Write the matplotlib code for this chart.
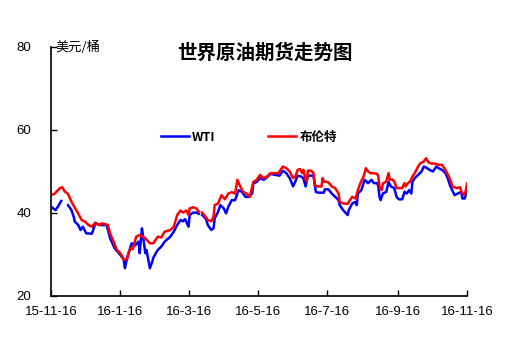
import numpy as np
import pandas as pd
import matplotlib
matplotlib.use("Agg")
import matplotlib.pyplot as plt

plt.rcParams["font.family"] = ["Liberation Sans", "Noto Sans CJK SC", "DejaVu Sans"]

start = pd.Timestamp("2015-11-16")

# Brent: day offset from start, USD/bbl (nan = no quote)
brent_day = [0, 3, 5, 8, 10, 12, 15, 18, 23, 27, 30, 33, 36, 39, 42, 45, 48, 50, 52, 55,
             58, 61, 64, 67, 68, 70, 72, 75, 78, 83, 87, 90, 92, 94, 97, 100, 105, 108, 111, 114,
             116, 119, 121, 122, 125, 128, 130, 132, 133, 136, 138, 141, 143, 144, 147, 150, 153, 156, 159, 162,
             164, 166, 169, 172, 175, 178, 181, 184, 187, 190, 193, 197, 200, 203, 204, 207, 210, 213, 215, 217,
             219, 221, 222, 224, 225, 226, 229, 231, 232, 235, 238, 239, 240, 244, 247, 250, 253, 254, 257, 261,
             263, 265, 268, 270, 272, 275, 277, 279, 281, 284, 287, 288, 289, 291, 292, 295, 297, 298, 300, 302,
             304, 309, 311, 312, 314, 316, 318, 320, 323, 325, 328, 330, 332, 335, 338, 341, 344, 347, 350, 352,
             353, 357, 360, 361, 364, 365, 366]
brent = [44.3, 44.6, 45.2, 46.0, 46.2, 45.2, 44.6, 42.7, 40.3, 38.3, 37.9, 37.1, 36.7, 37.7, 37.1, 37.5, 37.3, 37.1, 35.1, 33.1,
         31.1, 30.3, 28.8, 28.8, 30.3, 31.5, 31.3, 34.3, 34.7, 33.9, 32.7, 32.7, 33.5, 34.3, 34.1, 35.5, 35.9, 36.7, 39.5, 40.6,
         40.1, 40.6, 39.5, 41.1, 41.4, 41.1, 40.3, np.nan, 40.1, 39.1, 38.3, 38.0, 39.1, 41.9, 42.3, 44.3, 43.3, 44.7, 45.0, 44.7,
         48.0, 46.7, 45.1, 44.7, 43.9, 47.5, 48.0, 49.2, 48.4, 48.8, 49.6, 49.6, 49.6, 50.8, 51.2, 50.8, 50.0, 48.4, 48.8, 50.4,
         50.6, 49.6, 50.4, 48.0, 47.6, 50.2, 50.2, 49.6, 46.7, 46.4, 46.4, 48.4, 47.6, 47.4, 46.4, 46.0, 44.7, 42.7, 42.3, 42.2,
         43.1, 43.9, 43.5, 45.5, 47.1, 48.8, 50.8, 50.0, 49.6, 49.6, 49.4, 48.8, 46.4, 45.5, 47.1, 47.6, 49.6, 48.0, 48.1, 47.6,
         46.0, 46.0, 47.2, 46.4, 47.2, 47.6, 48.8, 49.6, 51.2, 52.0, 52.4, 53.2, 52.2, 51.9, 51.9, 51.6, 51.6, 50.4, 48.8, 47.5,
         46.4, 46.0, 46.2, 45.1, 44.3, 45.5, 47.1]

# WTI
wti_day = [0, 4, 6, 9, 11, 15, 18, 20, 21, 24, 26, 28, 31, 36, 39, 43, 49, 52, 56, 61,
           64, 65, 67, 71, 74, 77, 78, 80, 81, 83, 84, 87, 89, 90, 93, 94, 97, 100, 105, 108,
           111, 114, 116, 118, 121, 122, 125, 128, 130, 132, 133, 136, 138, 141, 143, 144, 147, 149, 152, 154,
           156, 159, 162, 165, 168, 171, 174, 177, 178, 181, 184, 187, 190, 193, 197, 201, 204, 207, 210, 213,
           215, 217, 220, 222, 224, 226, 231, 233, 235, 240, 241, 244, 247, 250, 253, 254, 257, 261, 262, 265,
           268, 269, 270, 273, 276, 279, 282, 284, 287, 288, 289, 290, 292, 295, 297, 299, 302, 304, 306, 309,
           311, 313, 315, 317, 318, 320, 323, 326, 328, 331, 333, 336, 339, 341, 344, 347, 349, 351, 353, 355,
           358, 361, 362, 364, 366]
wti = [41.5, 40.7, 41.5, 42.9, np.nan, 41.9, 40.7, 39.1, 37.9, 37.1, 35.9, 36.7, 35.1, 35.0, 37.5, 37.1, 37.1, 33.9, 31.5, 29.9,
       28.8, 26.7, 29.2, 32.7, 32.2, 33.1, 30.3, 36.3, 34.4, 30.3, 31.1, 26.7, 28.2, 29.2, 30.7, 31.1, 31.9, 33.1, 34.3, 35.5,
       37.1, 38.3, 38.0, 38.5, 36.7, 39.5, 40.1, 40.1, 39.8, np.nan, 39.5, 38.7, 37.1, 35.9, 36.3, 38.7, 40.3, 41.9, 41.1, 39.9,
       41.5, 43.1, 43.1, 45.5, 45.1, 43.9, 43.9, 44.7, 47.1, 47.5, 48.4, 48.0, 48.6, 49.4, 49.2, 49.0, 50.2, 49.6, 48.4, 46.4,
       47.6, 49.0, 48.8, 48.4, 46.4, 49.0, 49.0, 45.1, 44.9, 44.9, 45.7, 45.7, 44.7, 43.9, 43.1, 41.9, 40.7, 39.5, 40.7, 42.3,
       42.7, 41.9, 44.7, 45.5, 48.0, 47.2, 48.0, 47.2, 47.2, 46.4, 43.9, 43.1, 44.7, 45.1, 47.5, 46.4, 46.0, 43.9, 43.3, 43.3,
       45.1, 44.7, 45.5, 44.7, 47.5, 48.4, 49.2, 50.0, 51.2, 50.8, 50.4, 50.0, 51.2, 50.8, 50.4, 49.6, 48.4, 46.7, 45.5, 44.3,
       44.7, 45.1, 43.5, 43.5, 45.5]

tick_dates = ["2015-11-16", "2016-01-16", "2016-03-16", "2016-05-16",
              "2016-07-16", "2016-09-16", "2016-11-16"]
tick_labels = ["15-11-16", "16-1-16", "16-3-16", "16-5-16", "16-7-16", "16-9-16", "16-11-16"]

brent_x = start + pd.to_timedelta(brent_day, unit="D")
wti_x = start + pd.to_timedelta(wti_day, unit="D")

fig = plt.figure(figsize=(5.13, 3.45), dpi=100)
ax = fig.add_axes([51 / 513, 1 - 296 / 345, 416 / 513, 249 / 345])

ax.plot(wti_x, wti, color="#0000ff", lw=1.8, label="WTI")
ax.plot(brent_x, brent, color="#ff0000", lw=1.8, label="布伦特")

ax.set_xlim(pd.Timestamp(tick_dates[0]), pd.Timestamp(tick_dates[-1]))
ax.set_ylim(20, 80)
ax.set_yticks([20, 40, 60, 80])
ax.set_xticks(pd.to_datetime(tick_dates))
ax.set_xticklabels(tick_labels)

for side in ("top", "right"):
    ax.spines[side].set_visible(False)
for side in ("left", "bottom"):
    ax.spines[side].set_linewidth(1.2)
ax.tick_params(direction="in", length=4, width=1.0, labelsize=9.5, colors="black")
ax.tick_params(axis="x", pad=7)
ax.tick_params(axis="y", pad=14)

fig.text(55 / 513, 1 - 47 / 345, "美元/桶", fontsize=9.5, va="center", ha="left",
         family=["Noto Sans CJK SC", "DejaVu Sans"])
fig.text(265 / 513, 1 - 53 / 345, "世界原油期货走势图", fontsize=14, fontweight="bold",
         ha="center", va="center", family=["Noto Sans CJK SC"])

fig.legend(loc="center", bbox_to_anchor=(249 / 513, 1 - 137 / 345), ncol=2,
           frameon=False, handlelength=2.2, handletextpad=0.3, columnspacing=4.2,
           prop={"family": ["Noto Sans CJK SC"], "weight": "bold", "size": 9})

fig.savefig("out.png", dpi=100)
